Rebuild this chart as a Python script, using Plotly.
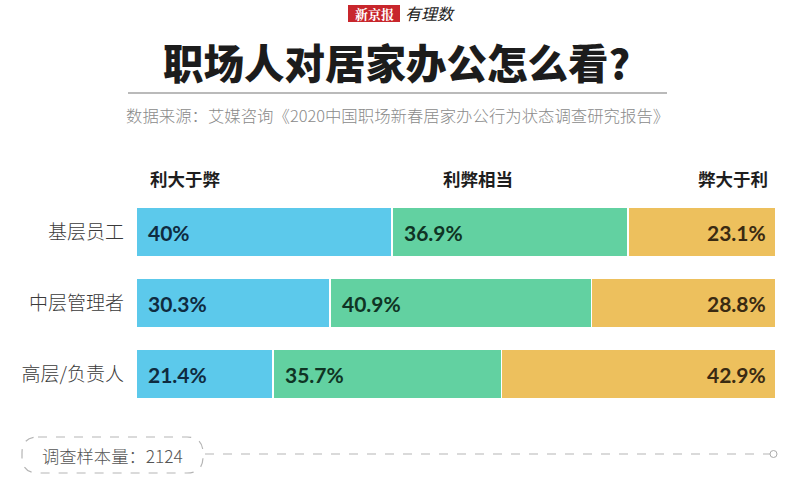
import plotly.graph_objects as go

# ---- data ----
groups = ["基层员工", "中层管理者", "高层/负责人"]
series_names = ["利大于弊", "利弊相当", "弊大于利"]
benefit = [40.0, 30.3, 21.4]
equal = [36.9, 40.9, 35.7]
harm = [23.1, 28.8, 42.9]
value_labels = [
    ["40%", "30.3%", "21.4%"],
    ["36.9%", "40.9%", "35.7%"],
    ["23.1%", "28.8%", "42.9%"],
]
title_text = "职场人对居家办公怎么看?"
source_text = "数据来源：艾媒咨询《2020中国职场新春居家办公行为状态调查研究报告》"
sample_text = "调查样本量：2124"

W, H = 800, 489
colors = ["#5cc9eb", "#62d1a1", "#edc05d"]
text_colors = ["#0f2b40", "#0f3424", "#3a2a12"]
CJK = "Noto Sans CJK SC"
NUM = "Lato, Noto Sans, sans-serif"


def px(x):
    return x / W


def py(y):
    return 1 - y / H


series = [benefit, equal, harm]
fig = go.Figure()
for name, vals, col in zip(series_names, series, colors):
    fig.add_trace(go.Bar(
        y=groups, x=vals, orientation="h", name=name,
        marker=dict(color=col, line=dict(color="white", width=1.5)),
        hoverinfo="skip", showlegend=False,
    ))

annotations = []
# value labels inside bars
for i, g in enumerate(groups):
    start = 0.0
    for s, vals in enumerate(series):
        if s < 2:
            annotations.append(dict(
                x=start, y=g, xref="x", yref="y", text=value_labels[s][i],
                showarrow=False, xanchor="left", xshift=10,
                font=dict(family=NUM, size=21, color=text_colors[s], weight="bold"),
            ))
        else:
            annotations.append(dict(
                x=start + vals[i], y=g, xref="x", yref="y", text=value_labels[s][i],
                showarrow=False, xanchor="right", xshift=-8,
                font=dict(family=NUM, size=21, color=text_colors[s], weight="bold"),
            ))
        start += vals[i]

# header labels
hdr = [(148, "left"), (478, "center"), (770, "right")]
for (hx, anc), name in zip(hdr, series_names):
    annotations.append(dict(
        x=px(hx), y=py(178), xref="paper", yref="paper", text=name,
        showarrow=False, xanchor=anc, yanchor="middle",
        font=dict(family=CJK, size=17.5, color="#1e1e1e", weight="bold"),
    ))

# title & source
annotations.append(dict(
    x=px(396), y=py(62), xref="paper", yref="paper", text=title_text,
    showarrow=False, xanchor="center", yanchor="middle",
    font=dict(family=CJK, size=40.5, color="#1c1c1c", weight=900),
))
annotations.append(dict(
    x=px(397), y=py(115), xref="paper", yref="paper", text=source_text,
    showarrow=False, xanchor="center", yanchor="middle",
    font=dict(family=CJK, size=16.4, color="#8a8a8a", weight=300),
))
# logo
annotations.append(dict(
    x=px(374), y=py(13.5), xref="paper", yref="paper", text="新京报",
    showarrow=False, xanchor="center", yanchor="middle",
    font=dict(family="Noto Serif CJK SC, Noto Sans CJK SC", size=13, color="white", weight="bold"),
))
annotations.append(dict(
    x=px(403), y=py(13), xref="paper", yref="paper", text="<i>有理数</i>",
    showarrow=False, xanchor="left", yanchor="middle",
    font=dict(family=CJK, size=16, color="#222222"),
))
# sample size
annotations.append(dict(
    x=px(112), y=py(455), xref="paper", yref="paper", text=sample_text,
    showarrow=False, xanchor="center", yanchor="middle",
    font=dict(family=CJK, size=17.3, color="#555555", weight=300),
))

shapes = []
# logo red box
shapes.append(dict(type="rect", xref="paper", yref="paper",
                   x0=px(348), x1=px(400), y0=py(22), y1=py(5),
                   fillcolor="#c8262c", line=dict(width=0)))
# title rule
shapes.append(dict(type="line", xref="paper", yref="paper",
                   x0=px(128), x1=px(667), y0=py(93), y1=py(93),
                   line=dict(color="#777777", width=1.2)))
# rounded dashed box
x0, x1, y0, y1, r = 22, 203, 437, 473, 16
path = (f"M {px(x0 + r)},{py(y0)} L {px(x1 - r)},{py(y0)} "
        f"Q {px(x1)},{py(y0)} {px(x1)},{py(y0 + r)} L {px(x1)},{py(y1 - r)} "
        f"Q {px(x1)},{py(y1)} {px(x1 - r)},{py(y1)} L {px(x0 + r)},{py(y1)} "
        f"Q {px(x0)},{py(y1)} {px(x0)},{py(y1 - r)} L {px(x0)},{py(y0 + r)} "
        f"Q {px(x0)},{py(y0)} {px(x0 + r)},{py(y0)} Z")
shapes.append(dict(type="path", xref="paper", yref="paper", path=path,
                   line=dict(color="#b5b5b5", width=1.2, dash="dash")))
shapes.append(dict(type="line", xref="paper", yref="paper",
                   x0=px(205), x1=px(770), y0=py(454), y1=py(454),
                   line=dict(color="#b5b5b5", width=1.2, dash="dash")))
shapes.append(dict(type="circle", xref="paper", yref="paper",
                   x0=px(770), x1=px(777), y0=py(457.5), y1=py(450.5),
                   line=dict(color="#aaaaaa", width=1), fillcolor="white"))

ytop, ybot = 196.5, 409.5
fig.update_layout(
    width=W, height=H, barmode="stack", bargap=0.296,
    margin=dict(l=0, r=0, t=0, b=0),
    paper_bgcolor="white", plot_bgcolor="white",
    xaxis=dict(domain=[px(136), px(776)], range=[0, 100], visible=False, fixedrange=True),
    yaxis=dict(domain=[py(ybot), py(ytop)], autorange="reversed",
               showgrid=False, zeroline=False, showline=False,
               ticks="", ticklabelstandoff=11, ticklabelposition="outside",
               tickfont=dict(family=CJK, size=19, color="#3a3a3a", weight=300),
               fixedrange=True),
    annotations=annotations, shapes=shapes,
)

fig.write_html("out.html", config={"displayModeBar": False})
